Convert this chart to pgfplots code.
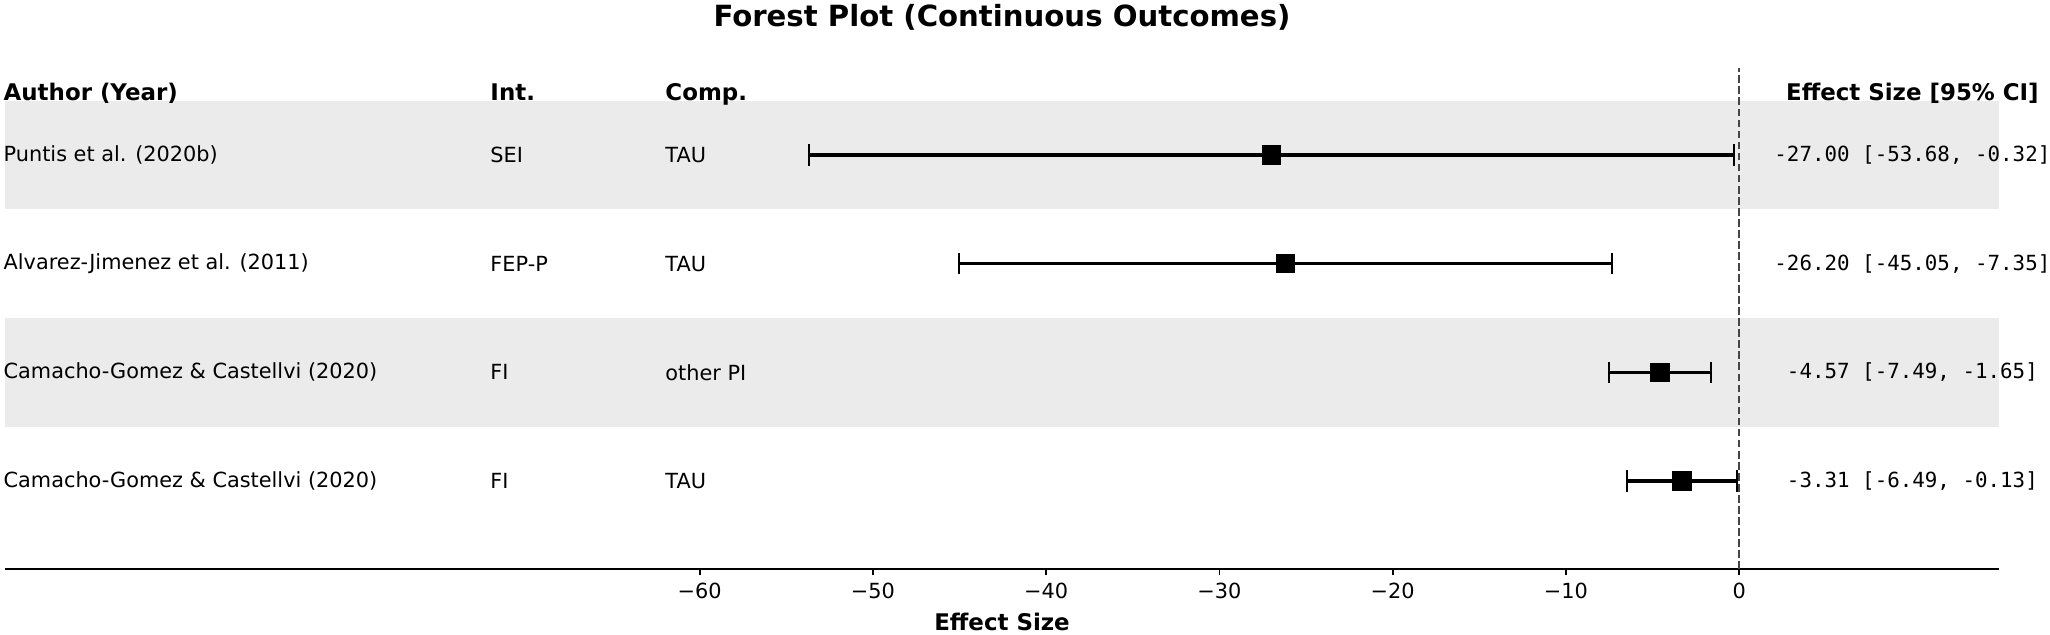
\documentclass[border=0pt]{standalone}
\usepackage{fontspec}
\setmainfont{DejaVu Sans}
\newfontfamily\monofont{DejaVu Sans Mono}
\usepackage{pgfplots}
\pgfplotsset{compat=1.18}
\definecolor{bandgray}{RGB}{235,235,235}
\definecolor{refgray}{RGB}{70,70,70}
\newcommand\rowf{\fontsize{10}{12}\selectfont}
\newcommand\hdrf{\fontsize{11}{13}\selectfont\bfseries}
\newcommand\monof{\monofont\fontsize{10}{12}\selectfont}
\begin{document}
\begin{tikzpicture}
\begin{axis}[
  name=ax,
  at={(0,0)}, anchor=south west,
  scale only axis, width=957.12pt, height=240.48pt,
  xmin=-100.1, xmax=15, ymin=0.19022, ymax=4.8006,
  axis x line=bottom, axis y line=none,
  axis line style={-, line width=0.9pt, black},
  xtick={-60,-50,-40,-30,-20,-10,0},
  xticklabels={−60,−50,−40,−30,−20,−10,0},
  tick align=outside, major tick length=3pt,
  tick style={black, line width=0.8pt},
  xticklabel style={font=\rowf},
  clip=false,
]
% shaded bands
\addplot[fill=bandgray, draw=none, forget plot] coordinates {(-100.1,3.5) (15,3.5) (15,4.5) (-100.1,4.5)} -- cycle;
\addplot[fill=bandgray, draw=none, forget plot] coordinates {(-100.1,1.5) (15,1.5) (15,2.5) (-100.1,2.5)} -- cycle;
% reference line
\addplot[refgray, line width=1pt, dash pattern=on 3.7pt off 1.6pt, forget plot] coordinates {(0,0.19022) (0,4.8006)};
% effects
\addplot[only marks, mark=square*, mark size=4.4pt, black, line width=1.5pt,
  mark options={line width=0.4pt},
  error bars/.cd, x dir=both, x explicit,
  error bar style={line width=1.5pt, black},
  error mark=|,
  error mark options={line width=1pt, mark size=5.1pt, black}]
coordinates {
(-27.00,4) +- (26.68,0)
(-26.20,3) +- (18.85,0)
(-4.57,2) +- (2.92,0)
(-3.31,1) +- (3.18,0)
};
% title and labels
\node[anchor=base, font=\fontsize{14}{17}\selectfont\bfseries, inner sep=0pt] at (axis cs:-42.55,5.18) {Forest Plot (Continuous Outcomes)};
\node[anchor=center, font=\hdrf, inner sep=0pt] at (axis cs:-42.55,-0.2947) {Effect Size};
% header
\node[anchor=base west, font=\hdrf, inner sep=0pt] at (axis cs:-100.2,4.5) {Author (Year)};
\node[anchor=base west, font=\hdrf, inner sep=0pt] at (axis cs:-72.1,4.5) {Int.};
\node[anchor=base west, font=\hdrf, inner sep=0pt] at (axis cs:-62.0,4.5) {Comp.};
\node[anchor=base, font=\hdrf, inner sep=0pt] at (axis cs:10,4.5) {Effect Size [95\% CI]};
% rows
\node[anchor=west, font=\rowf, inner sep=0pt] at (axis cs:-100.2,4) {Puntis et al. (2020b)};
\node[anchor=west, font=\rowf, inner sep=0pt] at (axis cs:-100.2,3) {Alvarez-Jimenez et al. (2011)};
\node[anchor=west, font=\rowf, inner sep=0pt] at (axis cs:-100.2,2) {Camacho-Gomez \& Castellvi (2020)};
\node[anchor=west, font=\rowf, inner sep=0pt] at (axis cs:-100.2,1) {Camacho-Gomez \& Castellvi (2020)};
\node[anchor=west, font=\rowf, inner sep=0pt] at (axis cs:-72.1,4) {SEI};
\node[anchor=west, font=\rowf, inner sep=0pt] at (axis cs:-72.1,3) {FEP-P};
\node[anchor=west, font=\rowf, inner sep=0pt] at (axis cs:-72.1,2) {FI};
\node[anchor=west, font=\rowf, inner sep=0pt] at (axis cs:-72.1,1) {FI};
\node[anchor=west, font=\rowf, inner sep=0pt] at (axis cs:-62.0,4) {TAU};
\node[anchor=west, font=\rowf, inner sep=0pt] at (axis cs:-62.0,3) {TAU};
\node[anchor=west, font=\rowf, inner sep=0pt] at (axis cs:-62.0,2) {other PI};
\node[anchor=west, font=\rowf, inner sep=0pt] at (axis cs:-62.0,1) {TAU};
\node[anchor=center, font=\monof, inner sep=0pt] at (axis cs:10,4) {-27.00 [-53.68, -0.32]};
\node[anchor=center, font=\monof, inner sep=0pt] at (axis cs:10,3) {-26.20 [-45.05, -7.35]};
\node[anchor=center, font=\monof, inner sep=0pt] at (axis cs:10,2) {-4.57 [-7.49, -1.65]};
\node[anchor=center, font=\monof, inner sep=0pt] at (axis cs:10,1) {-3.31 [-6.49, -0.13]};
\end{axis}
\pgfresetboundingbox
\path[use as bounding box, shift={(ax.south west)}] (-2.4pt,-31.7pt) rectangle (981.6pt,273.1pt);
\end{tikzpicture}
\end{document}
